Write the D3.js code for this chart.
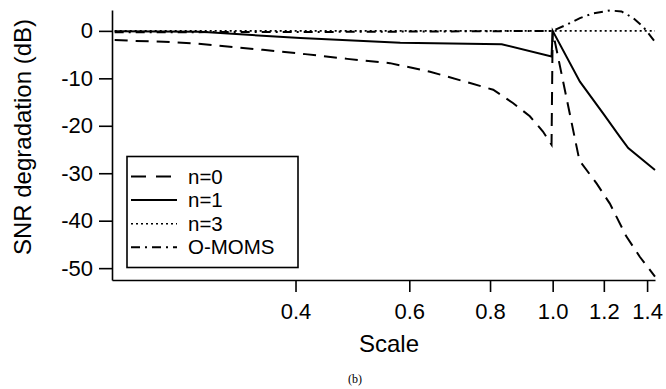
<!DOCTYPE html>
<html>
<head>
<meta charset="utf-8">
<script src="https://cdn.jsdelivr.net/npm/d3@7"></script>
<style>
  body { margin: 0; background: #fff; }
  svg { display: block; font-family: "Liberation Sans", Arial, sans-serif; }
</style>
</head>
<body>
<div id="chart"></div>
<script>
// values (scale, SNR degradation in dB)
const n0Scale = [0.21, 0.225, 0.25, 0.283, 0.32, 0.356, 0.414, 0.481, 0.56, 0.646, 0.745, 0.809, 0.868, 0.922, 0.966, 0.996, 1.0, 1.1, 1.17, 1.226, 1.3, 1.364, 1.44];
const n0Db    = [-1.9, -2.1, -2.3, -2.7, -3.4, -4.0, -4.9, -5.9, -6.8, -8.6, -11.0, -12.4, -15.2, -18.0, -21.2, -24.0, 0, -27.3, -32.2, -36.4, -43.3, -47.6, -51.8];

const n1Scale = [0.21, 0.285, 0.407, 0.581, 0.834, 0.996, 1.0, 1.102, 1.2, 1.27, 1.309, 1.44];
const n1Db    = [-0.1, -0.2, -1.5, -2.5, -2.8, -5.4, 0, -10.7, -17.6, -22.3, -24.7, -29.3];

const n3Scale = [0.21, 1.44];
const n3Db    = [0, 0];

const omomsScale = [0.21, 0.5, 1.0, 1.051, 1.102, 1.155, 1.226, 1.278, 1.332, 1.38, 1.44];
const omomsDb    = [-0.3, -0.2, 0, 1.3, 2.7, 3.7, 4.3, 4.1, 2.7, 0.9, -2.3];

const xTicks = [0.4, 0.6, 0.8, 1.0, 1.2, 1.4];
const yTicks = [0, -10, -20, -30, -40, -50];

const seriesNames = ["n=0", "n=1", "n=3", "O-MOMS"];
const seriesDash = ["13,8", null, "2,3", "9,5,2,5"];

const width = 666, height = 389;
const svg = d3.select("#chart").append("svg")
  .attr("width", width)
  .attr("height", height);

const x = d3.scaleLog().domain([0.208, 1.44]).range([112, 655]);
const y = d3.scaleLinear().domain([-52.5, 4.4]).range([280, 10]);

// axes
const xAxis = d3.axisBottom(x)
  .tickValues(xTicks)
  .tickFormat(d3.format(".1f"))
  .tickSize(12)
  .tickPadding(11)
  .tickSizeOuter(0);
const yAxis = d3.axisLeft(y)
  .tickValues(yTicks)
  .tickFormat(d => d)
  .tickSize(13)
  .tickPadding(6)
  .tickSizeOuter(0);

const gx = svg.append("g").attr("transform", "translate(0,280)").call(xAxis);
const gy = svg.append("g").attr("transform", "translate(112,0)").call(yAxis);
[gx, gy].forEach(g => {
  g.selectAll("path, line").attr("stroke", "#000").attr("stroke-width", 1.6);
  g.selectAll("text").attr("fill", "#000").style("font-size", "22px");
});

// axis titles
svg.append("text")
  .attr("x", 389).attr("y", 352)
  .attr("text-anchor", "middle")
  .style("font-size", "24px")
  .text("Scale");
svg.append("text")
  .attr("transform", "translate(31,137) rotate(-90)")
  .attr("text-anchor", "middle")
  .style("font-size", "24px")
  .text("SNR degradation (dB)");
svg.append("text")
  .attr("x", 355).attr("y", 383)
  .attr("text-anchor", "middle")
  .style("font-family", "'Liberation Serif', serif")
  .style("font-size", "12px")
  .text("(b)");

// curves
const line = d3.line().x(d => x(d[0])).y(d => y(d[1]));
const series = [
  d3.zip(n0Scale, n0Db),
  d3.zip(n1Scale, n1Db),
  d3.zip(n3Scale, n3Db),
  d3.zip(omomsScale, omomsDb)
];
series.forEach((pts, i) => {
  svg.append("path")
    .datum(pts)
    .attr("fill", "none")
    .attr("stroke", "#000")
    .attr("stroke-width", i === 2 ? 1.6 : 2)
    .attr("stroke-dasharray", seriesDash[i])
    .attr("d", line);
});

// legend
const legend = svg.append("g");
legend.append("rect")
  .attr("x", 127).attr("y", 156.5)
  .attr("width", 171).attr("height", 111)
  .attr("fill", "#fff")
  .attr("stroke", "#000")
  .attr("stroke-width", 1.6);
seriesNames.forEach((name, i) => {
  const ly = 176.5 + i * 23.6;
  legend.append("line")
    .attr("x1", 131).attr("x2", 177)
    .attr("y1", ly).attr("y2", ly)
    .attr("stroke", "#000")
    .attr("stroke-width", i === 2 ? 1.6 : 2)
    .attr("stroke-dasharray", i === 0 ? "15,10" : seriesDash[i]);
  legend.append("text")
    .attr("x", 188).attr("y", ly)
    .attr("dy", "0.35em")
    .style("font-size", "20.5px")
    .text(name);
});
</script>
</body>
</html>
